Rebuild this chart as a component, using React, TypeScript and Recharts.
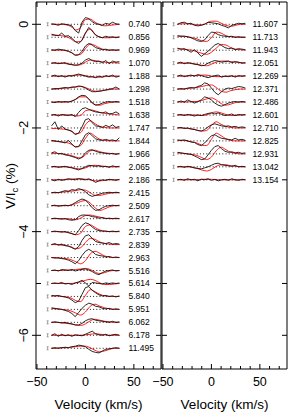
import React from 'react';
import { ComposedChart, Line, Scatter, XAxis, YAxis } from 'recharts';

// Velocity grids (km/s)
const velObs = [-35, -31.5, -28, -24.5, -21, -17.5, -14, -10.5, -7, -3.5, 0, 3.5, 7, 10.5, 14, 17.5, 21, 24.5, 28, 31.5, 35];
const velModel = [-35, -30, -25, -20, -15, -10, -5, 0, 5, 10, 15, 20, 25, 30, 35];

// Axis ticks
const xTicks = [-50, -40, -30, -20, -10, 0, 10, 20, 30, 40, 50, 60, 70];
const xTickLabels = [-50, 0, 50];
const yTicks = [0, -1, -2, -3, -4, -5, -6];
const yTickLabels = [0, -2, -4, -6];
const xDomain = [-51, 78];
const yDomain = [-6.65, 0.43];

const profileStep = 0.25; // vertical shift between profiles (%)
const errorBarVel = -39;
const errorHalf = 0.03;

// Left panel: rotation phases
const leftPhases = ['0.740', '0.856', '0.969', '1.070', '1.188', '1.298', '1.518', '1.638', '1.747', '1.844', '1.966', '2.065', '2.186', '2.415', '2.509', '2.617', '2.735', '2.839', '2.963', '5.516', '5.614', '5.840', '5.951', '6.062', '6.178', '11.495'];

// observed V/Ic in units of 0.01 %
const leftObs = [
  [1, 0, -2, 1, 0, -1, -3, -12, -17, 4, 13, 11, 5, 1, 0, -2, 2, 0, 4, 1, 0],
  [6, 4, 3, 8, 2, 3, -2, -8, -12, -6, 8, 19, 12, 4, 1, -1, 2, 0, 1, -1, 1],
  [1, 0, 2, 1, 0, -2, -5, -10, -9, -2, 8, 13, 10, 5, 3, 1, 2, 0, 1, 0, 1],
  [0, 1, -1, 0, 1, -2, -3, -4, -3, 0, 6, 9, 5, 3, 4, 1, 5, -1, 4, 2, 3],
  [0, 2, -1, 1, -2, 1, 0, 2, 4, 2, 0, -2, -1, -3, 0, -2, 1, -1, 2, -2, 0],
  [0, 1, 1, 2, 3, 2, 4, 4, 6, 5, 2, -2, -5, -5, -4, -3, -2, 0, 1, 4, 0],
  [0, -1, 1, 0, 1, 0, 2, 5, 10, 13, 12, 6, -2, -6, -5, -2, 0, 1, 0, 1, 0],
  [0, 1, -2, 1, 0, -1, 1, -3, 5, 12, 14, 11, 8, 6, 5, 4, 6, 2, 3, 6, 2],
  [4, 12, -3, 4, -2, -4, -6, -13, -10, 2, 16, 18, 10, 4, 3, 1, 5, 2, 6, 1, 3],
  [1, 0, -1, -2, -4, 1, -6, -12, -11, 0, 12, 16, 10, 4, 2, 1, 3, 1, 2, 0, 6],
  [2, 4, 0, 1, -2, -3, -5, -7, -10, -6, 2, 7, 8, 5, 3, 2, 1, 0, 1, -1, 1],
  [0, 1, -1, 0, 1, -1, -2, -4, -6, -3, 0, 3, 2, 1, 2, 0, 1, -1, 2, 0, 1],
  [0, -2, 1, -1, 0, 2, 1, 0, 2, 1, 0, 2, -1, -5, -2, 0, -1, 1, 0, -1, 1],
  [0, 1, 0, 2, 4, 3, 6, 5, 8, 6, 2, -4, -7, -5, -3, -1, 0, 1, 0, 1, 0],
  [0, 1, -1, 0, 1, 0, 2, 6, 10, 13, 11, 4, -4, -9, -8, -4, -1, 0, 1, 0, 1],
  [0, 1, 0, -1, 0, -2, -3, -2, 4, 7, 7, 6, 4, 3, 1, 2, 0, 1, 0, 1, 0],
  [0, 1, 0, -1, 0, -2, -4, -6, 2, 12, 17, 15, 9, 4, 2, 1, 1, 0, 1, 0, 1],
  [0, 2, -1, 1, -2, -3, -6, -9, -4, 8, 17, 19, 12, 6, 4, 3, 2, 4, 1, 2, 1],
  [0, -1, -1, -2, -3, -5, -8, -12, -6, 4, 12, 16, 12, 6, 4, 3, 1, 2, 0, 1, 0],
  [0, 1, -1, 2, 1, 0, 2, -1, 1, 2, 3, 1, -2, -6, -8, -4, -1, 0, 1, -1, 0],
  [0, 1, 0, 2, -1, 0, -2, 1, 3, 6, 1, -5, 2, 1, 0, -1, 1, 0, 1, 0, 1],
  [2, 1, 2, 0, -1, -3, -7, -12, -9, 4, 17, 19, 12, 7, 3, 1, 2, 0, 1, -1, 1],
  [3, 2, 1, 0, -2, -4, -8, -14, -6, 2, 8, 12, 10, 6, 5, 2, 1, 2, 0, 1, 0],
  [0, 1, 0, -1, 0, -2, -3, -5, -5, -2, 3, 6, 7, 4, 3, 2, 1, 0, 2, 0, 1],
  [0, 3, -2, 2, -1, 1, -2, 1, 0, -1, 2, 5, 8, 3, 1, 0, 2, -1, 1, 2, 0],
  [0, 1, 0, 1, 2, 1, 3, 4, 6, 5, 3, -2, -6, -8, -9, -5, -2, -1, 0, 1, 0],
];

// model V/Ic in units of 0.01 %
const leftModel = [
  [0, 0, 0, -1, -4, -11, -6, 9, 10, 4, -1, -3, -2, -1, 0],
  [4, 4, 3, 1, -3, -9, -8, 8, 16, 6, 0, -1, -1, 0, 0],
  [0, 0, 0, -1, -4, -9, -8, 3, 12, 9, 4, 1, 0, 0, 0],
  [0, 0, 0, -1, -2, -4, -3, 2, 6, 5, 3, 2, 1, 1, 0],
  [0, 0, 0, 0, 1, 2, 2, 1, -1, -2, -2, -1, 0, 0, 0],
  [0, 0, 1, 2, 3, 4, 5, 3, -1, -4, -4, -2, -1, 0, 0],
  [0, 0, 0, 0, 1, 5, 10, 10, 3, -5, -6, -3, -1, 0, 0],
  [0, 0, 0, 0, 0, -2, -1, 8, 10, 8, 5, 3, 2, 1, 0],
  [-1, -1, -2, -3, -6, -11, -9, 6, 14, 8, 3, 1, 0, 0, 0],
  [0, -1, -2, -3, -6, -11, -9, 5, 15, 9, 3, 1, 0, 0, 0],
  [1, 1, 0, -1, -3, -6, -8, -2, 6, 7, 4, 2, 1, 0, 0],
  [0, 0, 0, 0, -1, -3, -4, -2, 2, 3, 2, 1, 0, 0, 0],
  [0, 0, 0, 1, 1, 2, 2, 1, 0, -2, -2, -1, 0, 0, 0],
  [0, 0, 1, 2, 3, 4, 6, 5, 0, -5, -5, -3, -1, 0, 0],
  [0, 0, 0, 0, 1, 4, 8, 10, 5, -4, -9, -6, -2, 0, 0],
  [0, 0, 0, 0, -1, -2, 1, 6, 7, 5, 3, 1, 0, 0, 0],
  [0, 0, 0, -1, -3, -6, -3, 10, 13, 8, 3, 1, 0, 0, 0],
  [0, 0, -1, -2, -4, -8, -6, 4, 12, 10, 5, 2, 1, 0, 0],
  [0, 0, -1, -2, -4, -8, -12, -6, 7, 12, 8, 3, 1, 0, 0],
  [0, 0, 0, 1, 1, 2, 3, 4, 2, -3, -6, -4, -1, 0, 0],
  [0, 0, 0, 0, 0, 1, 3, 6, 8, 6, 1, -2, -2, -1, 0],
  [1, 1, 0, -1, -3, -8, -10, 2, 13, 9, 4, 1, 0, 0, 0],
  [2, 1, 0, -1, -3, -7, -11, -5, 6, 10, 6, 3, 1, 0, 0],
  [0, 0, -1, -2, -3, -5, -6, -3, 3, 6, 4, 2, 1, 0, 0],
  [0, 0, 0, 0, 0, 0, 0, 1, 2, 3, 2, 1, 0, 0, 0],
  [0, 0, 1, 1, 2, 3, 4, 4, 1, -4, -7, -5, -2, 0, 0],
];

// Right panel
const rightPhases = ['11.607', '11.713', '11.943', '12.051', '12.269', '12.371', '12.486', '12.601', '12.710', '12.825', '12.931', '13.042', '13.154'];

const rightObs = [
  [0, 3, 4, 1, 2, -2, -3, -2, 0, 4, 3, 2, 1, -2, -4, -7, -2, 0, 2, 1, 2],
  [3, 2, 2, 1, -1, -4, -7, -8, -5, 3, 10, 9, 5, 3, 2, 1, 2, 0, 1, 0, 0],
  [4, 2, 3, 0, -4, 1, -5, -12, -7, -2, 4, 10, 13, 9, 5, 3, 4, 1, 3, 2, 1],
  [0, 2, -1, 1, 0, -2, -3, -5, -4, 0, 3, 5, 4, 2, 3, 4, 1, 3, 2, 0, 1],
  [0, 2, -1, 1, 2, 0, 3, 1, -1, -3, -1, 1, 2, -2, 0, -1, 1, -2, 1, 0, 1],
  [0, 1, 0, 2, 3, 2, 5, 7, 12, 10, 2, -6, -11, -5, 0, 2, 1, 3, 5, 4, 2],
  [0, 2, 0, 4, 1, -2, 1, 4, 10, 8, 4, -2, -6, -8, -5, -2, 0, 1, 0, 1, 0],
  [0, 1, -1, 1, 0, -2, 0, -1, 1, 3, 4, 2, 4, 1, -1, 0, 2, -1, 1, 0, 1],
  [0, 1, -1, 0, -2, -3, -5, -6, -3, 2, 6, 8, 6, 4, 3, 4, 2, 3, 1, 2, 1],
  [2, 1, 2, 0, -2, -3, -7, -9, -4, 3, 10, 12, 8, 5, 4, 3, 2, 5, 2, 3, 1],
  [3, 2, 1, 0, -1, -4, -7, -11, -10, -2, 7, 14, 16, 10, 5, 3, 4, 2, 3, 1, 2],
  [0, 1, -1, 1, 0, -2, -3, -4, -2, 0, 3, 6, 7, 4, 3, 2, 1, 3, 0, 1, 0],
  [0, 1, -1, 2, 0, 1, -2, 1, 0, 2, -1, 1, -2, 0, 1, -1, 2, 0, -1, 1, 0],
];

const rightModel = [
  [0, 1, 1, 0, -1, -1, 2, 6, 6, 2, -2, -4, -2, 0, 0],
  [2, 2, 1, -1, -3, -7, -8, -1, 10, 8, 3, 1, 0, 0, 0],
  [3, 2, 1, 0, -3, -6, -8, -4, 4, 11, 10, 5, 2, 1, 0],
  [0, 0, 0, -1, -2, -4, -5, -2, 2, 4, 4, 3, 2, 1, 0],
  [0, 0, 0, 1, 1, 2, 2, 0, -1, -1, 0, 0, 0, 0, 0],
  [0, 0, 1, 2, 3, 5, 7, 8, 3, -4, -6, -3, -1, 0, 0],
  [0, 0, 0, 1, 1, 3, 6, 8, 4, -3, -6, -4, -1, 0, 0],
  [0, 0, 0, 0, 0, -1, 0, 4, 6, 4, 1, -1, -1, 0, 0],
  [0, 0, -1, -2, -4, -6, -5, 5, 12, 7, 3, 1, 0, 0, 0],
  [1, 1, 0, -2, -4, -8, -9, 3, 15, 10, 4, 1, 0, 0, 0],
  [2, 1, 0, -1, -3, -7, -11, -6, 6, 13, 8, 3, 1, 0, 0],
  [0, 0, 0, -1, -3, -6, -8, -5, 1, 4, 4, 2, 1, 0, 0],
  [0, 0, 0, 0, 0, 1, 1, 1, 0, 0, 0, 0, 0, 0, 0],
];

const FONT = '"Liberation Sans", Arial, Helvetica, sans-serif';
const fmt = (v: number) => (v < 0 ? '\u2212' + Math.abs(v) : String(v));

function buildProfiles(phases: string[], obs: number[][], model: number[][]) {
  return phases.map((ph, i) => {
    const off = -profileStep * i;
    return {
      label: ph,
      off,
      obs: velObs.map((v, k) => ({ v, y: off + obs[i][k] / 100 })),
      model: velModel.map((v, k) => ({ v, y: off + model[i][k] / 100 })),
      base: [
        { v: velObs[0], y: off },
        { v: velObs[velObs.length - 1], y: off },
      ],
    };
  });
}

const BottomTick = (props: any) => {
  const { x, y, payload } = props;
  const major = xTickLabels.includes(payload.value);
  return (
    <g>
      <line x1={x} x2={x} y1={y} y2={y - (major ? 5 : 3)} stroke="#000" strokeWidth={1} />
      {major && (
        <text x={x} y={y + 17} textAnchor="middle" fontSize={12.5} fontFamily={FONT} fill="#000">
          {fmt(payload.value)}
        </text>
      )}
    </g>
  );
};

const TopTick = (props: any) => {
  const { x, y, payload } = props;
  const major = xTickLabels.includes(payload.value);
  return <line x1={x} x2={x} y1={y} y2={y + (major ? 5 : 3)} stroke="#000" strokeWidth={1} />;
};

const makeLeftTick = (withLabels: boolean) => (props: any) => {
  const { x, y, payload } = props;
  const major = yTickLabels.includes(payload.value);
  return (
    <g>
      <line x1={withLabels && major ? x - 4 : x} x2={x + 5} y1={y} y2={y} stroke="#000" strokeWidth={1} />
      {withLabels && major && (
        <text
          transform={`translate(${x - 8},${y}) rotate(-90)`}
          textAnchor="middle"
          fontSize={12.5}
          fontFamily={FONT}
          fill="#000"
        >
          {fmt(payload.value)}
        </text>
      )}
    </g>
  );
};

const RightTick = (props: any) => {
  const { x, y } = props;
  return <line x1={x} x2={x - 5} y1={y} y2={y} stroke="#000" strokeWidth={1} />;
};

const LabelShape = (props: any) => {
  const { cx, cy, payload } = props;
  return (
    <text x={cx} y={cy + 3} fontSize={8.5} fontFamily={FONT} fill="#000">
      {payload.label}
    </text>
  );
};

const ErrShape = (props: any) => {
  const { cx, cy } = props;
  const y1 = cy - 1.5;
  const y2 = cy + 1.5;
  return (
    <g stroke="#888" strokeWidth={0.8}>
      <line x1={cx} x2={cx} y1={y1} y2={y2} />
      <line x1={cx - 1} x2={cx + 1} y1={y1} y2={y1} />
      <line x1={cx - 1} x2={cx + 1} y1={y2} y2={y2} />
    </g>
  );
};

type PanelProps = {
  phases: string[];
  obs: number[][];
  model: number[][];
  labelVel: number;
  width: number;
  margin: { top: number; right: number; bottom: number; left: number };
  yLabels: boolean;
};

function Panel({ phases, obs, model, labelVel, width, margin, yLabels }: PanelProps) {
  const profiles = buildProfiles(phases, obs, model);
  const labels = profiles.map((p) => ({ v: labelVel, y: p.off, label: p.label }));
  const markers = profiles.map((p) => ({ v: errorBarVel, y: p.off }));
  const LeftTick = makeLeftTick(yLabels);
  return (
    <ComposedChart width={width} height={412} margin={margin}>
      <XAxis
        xAxisId="b"
        type="number"
        dataKey="v"
        domain={xDomain}
        ticks={xTicks}
        interval={0}
        orientation="bottom"
        height={1}
        tickSize={0}
        tickMargin={0}
        tickLine={false}
        tick={<BottomTick />}
        axisLine={{ stroke: '#000', strokeWidth: 1 }}
        allowDataOverflow
      />
      <XAxis
        xAxisId="t"
        type="number"
        dataKey="v"
        domain={xDomain}
        ticks={xTicks}
        interval={0}
        orientation="top"
        height={1}
        tickSize={0}
        tickMargin={0}
        tickLine={false}
        tick={<TopTick />}
        axisLine={{ stroke: '#000', strokeWidth: 1 }}
        allowDataOverflow
      />
      <YAxis
        yAxisId="l"
        type="number"
        dataKey="y"
        domain={yDomain}
        ticks={yTicks}
        interval={0}
        orientation="left"
        width={1}
        tickSize={0}
        tickMargin={0}
        tickLine={false}
        tick={<LeftTick />}
        axisLine={{ stroke: '#000', strokeWidth: 1 }}
        allowDataOverflow
      />
      <YAxis
        yAxisId="r"
        type="number"
        dataKey="y"
        domain={yDomain}
        ticks={yTicks}
        interval={0}
        orientation="right"
        width={1}
        tickSize={0}
        tickMargin={0}
        tickLine={false}
        tick={<RightTick />}
        axisLine={{ stroke: '#000', strokeWidth: 1 }}
        allowDataOverflow
      />
      {profiles.map((p, i) => (
        <Line
          key={'b' + i}
          xAxisId="b"
          yAxisId="l"
          data={p.base}
          dataKey="y"
          type="linear"
          stroke="#000"
          strokeWidth={0.9}
          strokeDasharray="1 2.2"
          dot={false}
          activeDot={false}
          isAnimationActive={false}
        />
      ))}
      {profiles.map((p, i) => (
        <Line
          key={'m' + i}
          xAxisId="b"
          yAxisId="l"
          data={p.model}
          dataKey="y"
          type="monotone"
          stroke="#ff0000"
          strokeWidth={0.9}
          dot={false}
          activeDot={false}
          isAnimationActive={false}
        />
      ))}
      {profiles.map((p, i) => (
        <Line
          key={'o' + i}
          xAxisId="b"
          yAxisId="l"
          data={p.obs}
          dataKey="y"
          type="linear"
          stroke="#111"
          strokeWidth={0.9}
          dot={false}
          activeDot={false}
          isAnimationActive={false}
        />
      ))}
      <Scatter
        xAxisId="b"
        yAxisId="l"
        data={markers}
        dataKey="y"
        shape={<ErrShape />}
        isAnimationActive={false}
      />
      <Scatter
        xAxisId="b"
        yAxisId="l"
        data={labels}
        dataKey="y"
        shape={<LabelShape />}
        isAnimationActive={false}
      />
    </ComposedChart>
  );
}

export default function App() {
  return (
    <div style={{ position: 'absolute', left: 0, top: 0, width: 288, height: 412, background: '#fff', overflow: 'hidden' }}>
      <div style={{ position: 'absolute', left: 0, top: 0 }}>
        <Panel
          phases={leftPhases}
          obs={leftObs}
          model={leftModel}
          labelVel={44.5}
          width={170}
          margin={{ top: 1, right: 8, bottom: 42, left: 35 }}
          yLabels={true}
        />
      </div>
      <div style={{ position: 'absolute', left: 150, top: 0 }}>
        <Panel
          phases={rightPhases}
          obs={rightObs}
          model={rightModel}
          labelVel={42.5}
          width={138}
          margin={{ top: 1, right: 0, bottom: 42, left: 11 }}
          yLabels={false}
        />
      </div>
      <svg width={288} height={412} style={{ position: 'absolute', left: 0, top: 0, pointerEvents: 'none' }}>
        <text x={98.5} y={409} textAnchor="middle" fontSize={13.5} fontFamily={FONT} fill="#000">
          Velocity (km/s)
        </text>
        <text x={224.5} y={409} textAnchor="middle" fontSize={13.5} fontFamily={FONT} fill="#000">
          Velocity (km/s)
        </text>
        <text transform="translate(15,186) rotate(-90)" textAnchor="middle" fontSize={13.5} fontFamily={FONT} fill="#000">
          V/I<tspan fontSize={9.5} dy={3}>c</tspan>
          <tspan dy={-3}> (%)</tspan>
        </text>
      </svg>
    </div>
  );
}
